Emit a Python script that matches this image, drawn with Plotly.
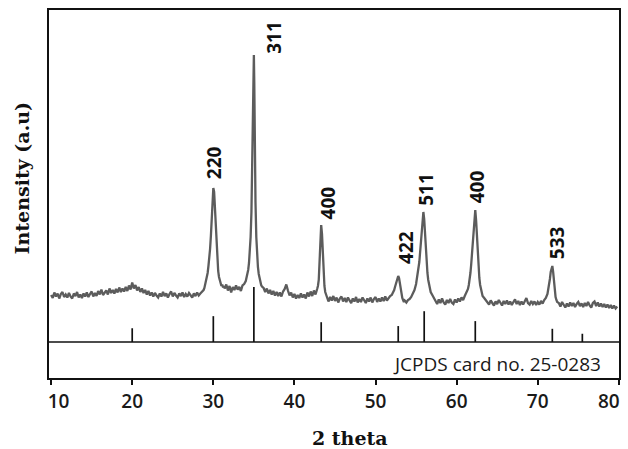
import plotly.graph_objects as go

# ---------------- data ----------------
two_theta = [
    10.0, 10.2, 10.4, 10.6, 10.8, 11.0, 11.2, 11.4, 11.6, 11.8, 12.0, 12.2, 12.4, 12.6, 12.8,
    13.0, 13.2, 13.4, 13.6, 13.8, 14.0, 14.2, 14.4, 14.6, 14.8, 15.0, 15.2, 15.4, 15.6, 15.8,
    16.0, 16.2, 16.4, 16.6, 16.8, 17.0, 17.2, 17.4, 17.6, 17.8, 18.0, 18.2, 18.4, 18.6, 18.8,
    19.0, 19.2, 19.4, 19.6, 19.8, 20.0, 20.2, 20.4, 20.6, 20.8, 21.0, 21.2, 21.4, 21.6, 21.8,
    22.0, 22.2, 22.4, 22.6, 22.8, 23.0, 23.2, 23.4, 23.6, 23.8, 24.0, 24.2, 24.4, 24.6, 24.8,
    25.0, 25.2, 25.4, 25.6, 25.8, 26.0, 26.2, 26.4, 26.6, 26.8, 27.0, 27.2, 27.4, 27.6, 27.8,
    28.0, 28.2, 28.4, 28.6,
    28.8, 28.9, 29.0, 29.1, 29.2, 29.3, 29.4, 29.5, 29.6, 29.7, 29.8, 29.9, 30.0, 30.1, 30.2,
    30.3, 30.4, 30.5, 30.6, 30.7, 30.8, 30.9, 31.0, 31.1, 31.2, 31.3,
    31.4, 31.6, 31.8, 32.0, 32.2, 32.4, 32.6, 32.8, 33.0, 33.2, 33.4, 33.6, 33.8, 34.0, 34.1, 34.2,
    34.3, 34.4, 34.5, 34.6, 34.7, 34.8, 34.9, 35.0, 35.05, 35.1, 35.2, 35.3, 35.4, 35.5, 35.6,
    35.7, 35.8, 35.9, 36.0,
    36.2, 36.4, 36.6, 36.8, 37.0, 37.2, 37.4, 37.6, 37.8, 38.0, 38.2, 38.4, 38.6, 38.8, 39.0,
    39.2, 39.4, 39.6, 39.8, 40.0, 40.2, 40.4, 40.6, 40.8, 41.0, 41.2, 41.4, 41.6, 41.8, 42.0,
    42.2, 42.4, 42.6, 42.8,
    42.9, 43.0, 43.1, 43.2, 43.3, 43.4, 43.5, 43.6, 43.7, 43.8, 43.9,
    44.0, 44.2, 44.4, 44.6, 44.8, 45.0, 45.2, 45.4, 45.6, 45.8, 46.0, 46.2, 46.4, 46.6, 46.8,
    47.0, 47.2, 47.4, 47.6, 47.8, 48.0, 48.2, 48.4, 48.6, 48.8, 49.0, 49.2, 49.4, 49.6, 49.8,
    50.0, 50.2, 50.4, 50.6, 50.8, 51.0, 51.2, 51.4, 51.6, 51.8, 52.0, 52.2,
    52.3, 52.4, 52.5, 52.6, 52.7, 52.8, 52.9, 53.0, 53.1, 53.2, 53.3, 53.4, 53.5, 53.6, 53.8,
    54.0, 54.2, 54.4, 54.6, 54.8, 55.0, 55.2, 55.4, 55.5, 55.6, 55.7, 55.8, 55.9, 56.0, 56.1,
    56.2, 56.3, 56.4, 56.5, 56.6, 56.7, 56.8, 57.0, 57.2,
    57.4, 57.6, 57.8, 58.0, 58.2, 58.4, 58.6, 58.8, 59.0, 59.2, 59.4, 59.6, 59.8, 60.0, 60.2,
    60.4, 60.6, 60.8, 61.0, 61.2, 61.4,
    61.5, 61.6, 61.7, 61.8, 61.9, 62.0, 62.1, 62.2, 62.3, 62.4, 62.5, 62.6, 62.7, 62.8, 62.9,
    63.0, 63.1, 63.2, 63.4, 63.6,
    63.8, 64.0, 64.2, 64.4, 64.6, 64.8, 65.0, 65.2, 65.4, 65.6, 65.8, 66.0, 66.2, 66.4, 66.6,
    66.8, 67.0, 67.2, 67.4, 67.6, 67.8, 68.0, 68.2, 68.4, 68.6, 68.8, 69.0, 69.2, 69.4, 69.6,
    69.8, 70.0, 70.2, 70.4, 70.6, 70.8, 71.0, 71.2,
    71.3, 71.4, 71.5, 71.6, 71.7, 71.8, 71.9, 72.0, 72.1, 72.2, 72.3, 72.4,
    72.6, 72.8, 73.0, 73.2, 73.4, 73.6, 73.8, 74.0, 74.2, 74.4, 74.6, 74.8, 75.0, 75.2, 75.4,
    75.6, 75.8, 76.0, 76.2, 76.4, 76.6, 76.8, 77.0, 77.2, 77.4, 77.6, 77.8, 78.0, 78.2, 78.4,
    78.6, 78.8, 79.0, 79.2, 79.4, 79.6, 79.8,
]

intensity = [
    470, 440, 495, 455, 485, 435, 480, 500, 450, 475, 445, 490, 455, 435, 485,
    460, 500, 445, 475, 440, 485, 455, 495, 450, 480, 505, 455, 490, 460, 510,
    475, 525, 470, 500, 515, 475, 535, 490, 520, 485, 530, 495, 545, 500, 535,
    505, 550, 510, 565, 525, 595, 535, 570, 515, 550, 500, 535, 490, 520, 475,
    510, 465, 495, 455, 490, 465, 445, 485, 455, 500, 460, 485, 445, 480, 505,
    455, 490, 465, 445, 485, 460, 495, 450, 480, 455, 490, 465, 445, 485, 460,
    495, 465, 485, 500,
    520, 540, 580, 600, 650, 690, 760, 830, 930, 1060, 1240, 1420, 1540, 1500, 1330,
    1120, 930, 800, 710, 650, 610, 580, 560, 575, 545, 560,
    535, 575, 515, 560, 495, 550, 520, 565, 525, 550, 510, 565, 580, 610, 640, 680,
    720, 790, 880, 1050, 1300, 1700, 2400, 2870, 2600, 2000, 1400, 1050, 860, 750, 680,
    630, 600, 570, 555,
    540, 500, 535, 485, 520, 475, 510, 465, 500, 460, 495, 455, 505, 530, 575,
    515, 465, 495, 445, 480, 435, 470, 440, 485, 445, 475, 435, 495, 455, 505,
    460, 515, 475, 530,
    560, 620, 760, 980, 1170, 1080, 850, 660, 560, 500, 470,
    440, 405, 450, 415, 460, 410, 445, 395, 435, 455, 405, 440, 400, 445, 415,
    390, 435, 405, 450, 395, 430, 400, 445, 410, 390, 435, 405, 445, 395, 430,
    450, 400, 435, 405, 445, 410, 455, 415, 445, 460, 470, 500,
    520, 550, 580, 610, 650, 660, 640, 590, 520, 470, 440, 420, 400, 415, 395,
    420, 430, 450, 480, 520, 580, 680, 800, 900, 1020, 1150, 1270, 1300, 1230, 1080,
    920, 790, 690, 620, 570, 530, 500, 470, 440,
    410, 380, 425, 390, 435, 395, 375, 420, 390, 430, 395, 380, 425, 395, 435,
    405, 445, 420, 460, 490, 530,
    570, 620, 690, 780, 900, 1040, 1180, 1300, 1320, 1220, 1050, 880, 740, 640, 570,
    520, 490, 460, 440, 420,
    400, 375, 415, 385, 365, 405, 380, 420, 385, 365, 410, 380, 415, 375, 405,
    370, 400, 425, 380, 410, 370, 405, 375, 415, 440, 390, 375, 410, 380, 405,
    370, 400, 375, 410, 385, 420, 440, 480,
    520, 570, 630, 700, 750, 760, 700, 600, 510, 450, 420, 400,
    390, 355, 400, 365, 345, 385, 355, 395, 360, 390, 350, 380, 400, 360, 385,
    350, 390, 360, 400, 365, 345, 390, 405, 360, 395, 355, 385, 350, 380, 345,
    375, 340, 370, 335, 365, 335, 355,
]

# JCPDS card no. 25-0283 reference lines (2 theta, relative intensity %)
ref_theta = [20.0, 30.0, 35.0, 43.3, 52.8, 56.0, 62.3, 71.8, 75.5]
ref_rel = [25, 47, 100, 36, 29, 56, 38, 24, 15]

# peak labels (hkl)
peak_labels = ["220", "311", "400", "422", "511", "400", "533"]
label_theta = [30.1, 37.45, 44.2, 53.75, 56.2, 62.55, 72.4]
label_int = [1790, 3050, 1390, 950, 1530, 1550, 990]

x_ticks = [10, 20, 30, 40, 50, 60, 70, 80]
card_text = "JCPDS card no. 25-0283"

# ---------------- figure ----------------
STICK_SCALE = 5.5
NB = "\u00a0"
TICK_FONT = dict(family="Open Sans", size=19, color="#1a1a1a", weight=600)

fig = go.Figure()

fig.add_trace(go.Scatter(
    x=two_theta, y=intensity, mode="lines",
    line=dict(color="#5c5c5c", width=2.3),
    hoverinfo="skip", showlegend=False,
))

sx, sy = [], []
for t, r in zip(ref_theta, ref_rel):
    sx += [t, t, None]
    sy += [0, r * STICK_SCALE, None]
fig.add_trace(go.Scatter(
    x=sx, y=sy, mode="lines",
    line=dict(color="#111111", width=1.7),
    hoverinfo="skip", showlegend=False,
))

# separator between pattern and reference card
fig.add_shape(type="line", xref="paper", yref="y", x0=0, x1=1, y0=0, y1=0,
              line=dict(color="#111111", width=1.7))

for lab, lx, ly in zip(peak_labels, label_theta, label_int):
    fig.add_annotation(x=lx, y=ly, text=lab, textangle=-90, showarrow=False,
                       xanchor="center", yanchor="middle",
                       font=dict(family="Open Sans", size=19, color="#111111", weight=700))

fig.add_annotation(x=78.1, y=-215, text=card_text, showarrow=False,
                   xanchor="right", yanchor="middle",
                   font=dict(family="Open Sans", size=19, color="#1a1a1a", weight=500))

fig.add_annotation(xref="paper", yref="paper", x=0.528, y=-0.163, text="<b>2 theta</b>",
                   showarrow=False, xanchor="center", yanchor="middle",
                   font=dict(family="DejaVu Serif", size=19, color="#111111"))
fig.add_annotation(xref="paper", yref="paper", x=-0.047, y=0.543, text="<b>Intensity (a.u)</b>",
                   textangle=-90, showarrow=False, xanchor="center", yanchor="middle",
                   font=dict(family="DejaVu Serif", size=19, color="#111111"))

# last tick label is pulled inside the frame as in the original
tick_text = [str(v) for v in x_ticks]
tick_text[0] = NB * 3 + tick_text[0]
tick_text[-1] = ""
fig.add_annotation(xref="paper", yref="paper", x=1.006, y=-0.022, text=str(x_ticks[-1]),
                   showarrow=False, xanchor="right", yanchor="top", font=TICK_FONT)

fig.update_xaxes(
    range=[9.74, 80.02], tickmode="array", tickvals=x_ticks, ticktext=tick_text,
    ticks="outside", ticklen=5, tickwidth=1.5, tickcolor="#111111",
    showline=True, mirror=True, linewidth=2, linecolor="#111111",
    showgrid=False, zeroline=False,
    tickfont=TICK_FONT,
)
fig.update_yaxes(
    range=[-360, 3320], showticklabels=False, ticks="",
    showline=True, mirror=True, linewidth=2, linecolor="#111111",
    showgrid=False, zeroline=False,
)

fig.update_layout(
    width=628, height=449,
    margin=dict(l=49, r=7, t=10, b=71),
    paper_bgcolor="white", plot_bgcolor="white",
    showlegend=False,
)

fig.write_html("out.html")
